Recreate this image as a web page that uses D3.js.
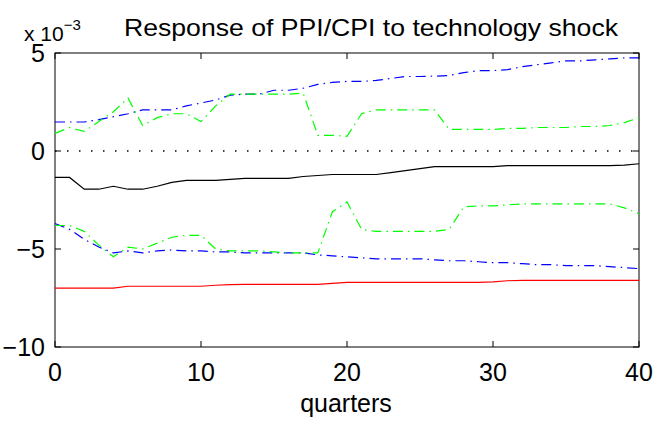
<!DOCTYPE html><html><head><meta charset="utf-8"><script src="https://cdn.jsdelivr.net/npm/d3@7"></script>
<style>body{margin:0;background:#fff}text{font-family:"Liberation Sans",Arial,sans-serif}</style></head><body><svg id="c" width="656" height="422"></svg><script>
const quarters=d3.range(0,41);
const response=[-1.35,-1.35,-1.95,-1.95,-1.8,-1.95,-1.95,-1.8,-1.6,-1.5,-1.5,-1.5,-1.45,-1.4,-1.4,-1.4,-1.4,-1.3,-1.25,-1.2,-1.2,-1.2,-1.2,-1.1,-1.0,-0.9,-0.8,-0.8,-0.8,-0.8,-0.8,-0.75,-0.75,-0.75,-0.75,-0.75,-0.75,-0.75,-0.75,-0.72,-0.65];
const red=[-7,-7,-7,-7,-7,-6.9,-6.9,-6.9,-6.9,-6.9,-6.9,-6.85,-6.82,-6.8,-6.8,-6.8,-6.8,-6.8,-6.8,-6.75,-6.7,-6.7,-6.7,-6.7,-6.7,-6.7,-6.7,-6.7,-6.7,-6.7,-6.68,-6.62,-6.6,-6.6,-6.6,-6.6,-6.6,-6.6,-6.6,-6.6,-6.6];
const blueUp=[1.48,1.48,1.48,1.6,1.75,1.9,2.1,2.1,2.1,2.3,2.45,2.6,2.85,2.9,2.9,3.1,3.1,3.2,3.4,3.5,3.55,3.55,3.6,3.7,3.8,3.8,3.82,3.85,4.0,4.1,4.1,4.15,4.3,4.4,4.5,4.6,4.6,4.65,4.7,4.75,4.75];
const blueLo=[-3.7,-4.0,-4.5,-4.9,-5.2,-5.1,-5.2,-5.1,-5.05,-5.1,-5.1,-5.15,-5.15,-5.2,-5.2,-5.2,-5.2,-5.2,-5.3,-5.35,-5.4,-5.45,-5.5,-5.5,-5.5,-5.5,-5.55,-5.6,-5.6,-5.65,-5.7,-5.7,-5.75,-5.8,-5.8,-5.85,-5.85,-5.85,-5.9,-5.95,-6.0];
const greenUp=[0.9,1.2,1.0,1.5,2.0,2.7,1.3,1.7,1.9,1.9,1.5,2.3,2.9,2.9,2.9,2.9,2.9,2.95,0.8,0.8,0.75,1.9,2.1,2.1,2.1,2.1,2.1,1.1,1.1,1.1,1.1,1.15,1.15,1.2,1.2,1.2,1.25,1.25,1.3,1.45,1.7];
const greenLo=[-3.8,-3.8,-4.1,-4.8,-5.4,-4.9,-5.0,-4.7,-4.4,-4.3,-4.3,-5.0,-5.1,-5.1,-5.1,-5.15,-5.2,-5.2,-5.2,-3.1,-2.6,-4.0,-4.1,-4.1,-4.1,-4.1,-4.1,-4.0,-2.85,-2.8,-2.8,-2.75,-2.7,-2.7,-2.7,-2.7,-2.7,-2.7,-2.7,-2.9,-3.2];
const xTicks=[0,10,20,30,40], yTicks=[-10,-5,0,5];
const svg=d3.select("#c");
const L=55,R=639,T=53,B=347;
const x=d3.scaleLinear().domain([0,40]).range([L,R]);
const y=d3.scaleLinear().domain([-10,5]).range([B,T]);
svg.append("rect").attr("x",L).attr("y",T).attr("width",R-L).attr("height",B-T).attr("fill","none").attr("stroke","#000").attr("stroke-width",1);
const ln=d3.line().x((d,i)=>x(quarters[i])).y(d=>y(d));
svg.append("line").attr("x1",x(0)).attr("x2",x(40)).attr("y1",y(0)).attr("y2",y(0)).attr("stroke","#000").attr("stroke-dasharray","1.5,10.5").attr("stroke-width",1.5);
const ser=[[response,"#000",null],[red,"#f00",null],[blueUp,"#00f","10,5,1.5,5"],[blueLo,"#00f","10,5,1.5,5"],[greenUp,"#0f0","10,5,1.5,5"],[greenLo,"#0f0","10,5,1.5,5"]];
ser.forEach(([d,c,da])=>svg.append("path").attr("d",ln(d)).attr("fill","none").attr("stroke",c).attr("stroke-width",1.2).attr("stroke-dasharray",da));
xTicks.forEach(t=>{svg.append("line").attr("x1",x(t)).attr("x2",x(t)).attr("y1",B).attr("y2",B-6).attr("stroke","#000");svg.append("line").attr("x1",x(t)).attr("x2",x(t)).attr("y1",T).attr("y2",T+6).attr("stroke","#000");
svg.append("text").attr("x",x(t)).attr("y",381).attr("text-anchor","middle").attr("font-size",25).text(t);});
yTicks.forEach(t=>{svg.append("line").attr("x1",L).attr("x2",L+6).attr("y1",y(t)).attr("y2",y(t)).attr("stroke","#000");svg.append("line").attr("x1",R).attr("x2",R-6).attr("y1",y(t)).attr("y2",y(t)).attr("stroke","#000");
svg.append("text").attr("x",45).attr("y",y(t)+9).attr("text-anchor","end").attr("font-size",25).text(t<0?"\u2212"+(-t):t);});
svg.append("text").attr("x",346).attr("y",412).attr("text-anchor","middle").attr("font-size",25).text("quarters");
const e=svg.append("text").attr("x",24).attr("y",41).attr("font-size",21);
e.append("tspan").text("x 10");e.append("tspan").attr("dy",-11).attr("font-size",15).text("\u22123");
svg.append("text").attr("x",124).attr("y",36).attr("font-size",24).attr("textLength",494).attr("lengthAdjust","spacingAndGlyphs").text("Response of PPI/CPI to technology shock");
</script></body></html>
